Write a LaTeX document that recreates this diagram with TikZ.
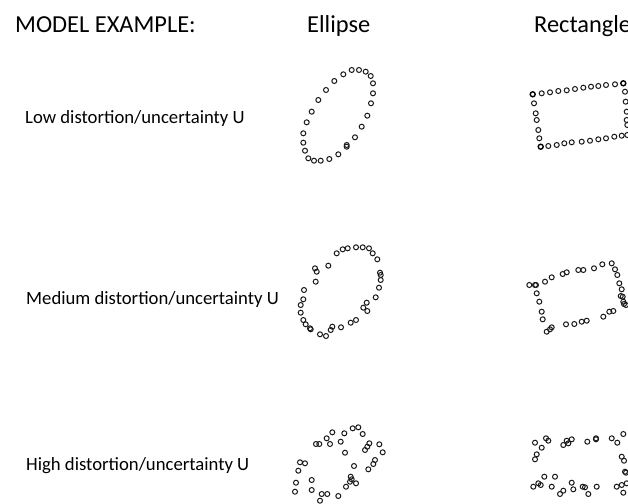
\documentclass[tikz,border=0pt]{standalone}
\usepackage{fontspec}
\setmainfont{Carlito}
\begin{document}
\begin{tikzpicture}[x=1pt,y=-1pt,
  dot/.style={line width=1.0pt, draw=black!90},
  bolddot/.style={line width=1.4pt, draw=black},
  title/.style={anchor=base west, inner sep=0pt, font=\fontsize{24.4}{28}\selectfont},
  rowlabel/.style={anchor=base west, inner sep=0pt, font=\fontsize{18.7}{22}\selectfont}]
\useasboundingbox[fill=white] (0,0) rectangle (628,503);
\def\r{2.5}
% headings
\node[title] (hmodel) at (15,33) {MODEL EXAMPLE:};
\node[title] (hellipse) at (307,33) {Ellipse};
\node[title] (hrect) at (534,33) {Rectangle};
% row labels
\node[rowlabel] (low) at (25,123.5) {Low distortion/uncertainty U};
\node[rowlabel] (med) at (26,304) {Medium distortion/uncertainty U};
\node[rowlabel] (high) at (26,470) {High distortion/uncertainty U};
% low ellipse
\foreach \x/\y in {351.7/70,359/70,365.7/71.7,370.7/76,373/83.3,373/93.3,371/103.3,367.3/115.7,361.7/126.7,355/137.3,346.7/145,346.7/146.7,338.3/154.3,329.3/159,320.7/160.7,314/160.7,308.3/158.3,305/150.7,303.3/142.7,303.3/133.3,306.7/122.3,311.7/111.7,318.3/100,326/90,334.3/81,343.3/74.3}
  \draw[dot] (\x,\y) circle (\r);
% low rectangle
\foreach \x/\y in {541.7/93.3,550/92.3,558.3/91,566.7/90.3,575/89,583.3/87.7,591/86.7,598.3/86,606/85,615/84.3,625/91.7,625.7/101.7,626.7/111.7,626.7/120,627.3/125,534/103.3,535.7/113.3,536.7/120,538.3/130,539.3/138.3,548.3/146,556.7/145,564.3/143.3,571.7/142.3,581.7/141.7,590/140.7,598.3/139.3,606/138.3,614.3/136.7,621.7/135.7,627.3/135}
  \draw[dot] (\x,\y) circle (\r);
\foreach \x/\y in {532.7/94.3,623.3/83.3,540.7/146.7}
  \draw[bolddot] (\x,\y) circle (\r);
% medium ellipse
\foreach \x/\y in {336.7/253.3,342.7/249.3,347.7/248.3,356/247.3,362.7/247.3,369/248.3,372.7/253.3,377.3/259.3,380/272.7,380.7/275,380.7/280,379/287.7,375.7/297.3,366.7/302.7,363.3/307.7,367.3/311,356/320,350.7/322.7,341/327.3,332.3/326.7,330.7/330,326/336,320/334.3,310.7/329.3,310/328.3,305.7/324.3,303.3/320,300.7/312.7,300.7/305,303.3/299.3,304/290,315.7/281.7,315/268.3,316.7/271.7,328.3/265.7}
  \draw[dot] (\x,\y) circle (\r);
% medium rectangle
\foreach \x/\y in {529.3/285,535/285,545/281.7,551.7/277.3,562.7/274,566.7/272.3,578.3/270,583.3/270,594/268.3,602.3/264.3,611.7/263.3,615/269.3,617.3/275,619.3/283.3,621.7/289.3,622.7/296.7,620.7/296,623.3/301.7,624/304,626/305,613.3/311,609.3/311.7,603.3/316.7,586.7/320.7,581.7/321.7,574.3/324,566/324.3,551.7/327.3,550/329.3,546.7/331.7,542.7/319.3,541.7/311.7,539.3/301.7,536.7/293.3,536/285}
  \draw[dot] (\x,\y) circle (\r);
% high ellipse
\foreach \x/\y in {332.3/432.3,344.3/433.3,352.7/428.3,358.3/427.3,362.7/434,316/444,319.3/444,326.7/438.3,330/444,340.7/441.7,345/452.7,369.3/443.3,367.3/446.7,365/450,379.3/444.3,382.7/452.3,375/460,373.3/464,368.3/469.3,354/466,350.7/476.7,351.7/479.3,356/483.3,350/481.7,346/486.7,338.3/496,327.3/494,321.7/494,320/500.7,311.7/480,311.7/490,305/463.3,300/462.3,298.3/470.7,296/482.7,295/491.7}
  \draw[dot] (\x,\y) circle (\r);
% high rectangle
\foreach \x/\y in {535/442.7,541.7/447.7,546/438.3,548.3/440.7,563.3/445,566.7/440.7,568.3/443.3,571.7/439.3,587.3/441.7,596/438.3,596/439.3,611.7/438.3,617.3/442.7,623.3/434,536.7/454.3,535/459.3,621.7/456.7,624/460.7,625/471.7,626/472.7,533.3/486.7,538.3/483.3,540.7/485,544.3/476.7,551.7/486.7,555/476.7,560/494,563.3/490.7,571.7/482.7,573.3/489.3,582.7/486.7,585/487.3,588.3/494,596.7/486.7,616.7/486.7,621.7/485,626.7/483.3,623.3/492.7}
  \draw[dot] (\x,\y) circle (\r);
\end{tikzpicture}
\end{document}
